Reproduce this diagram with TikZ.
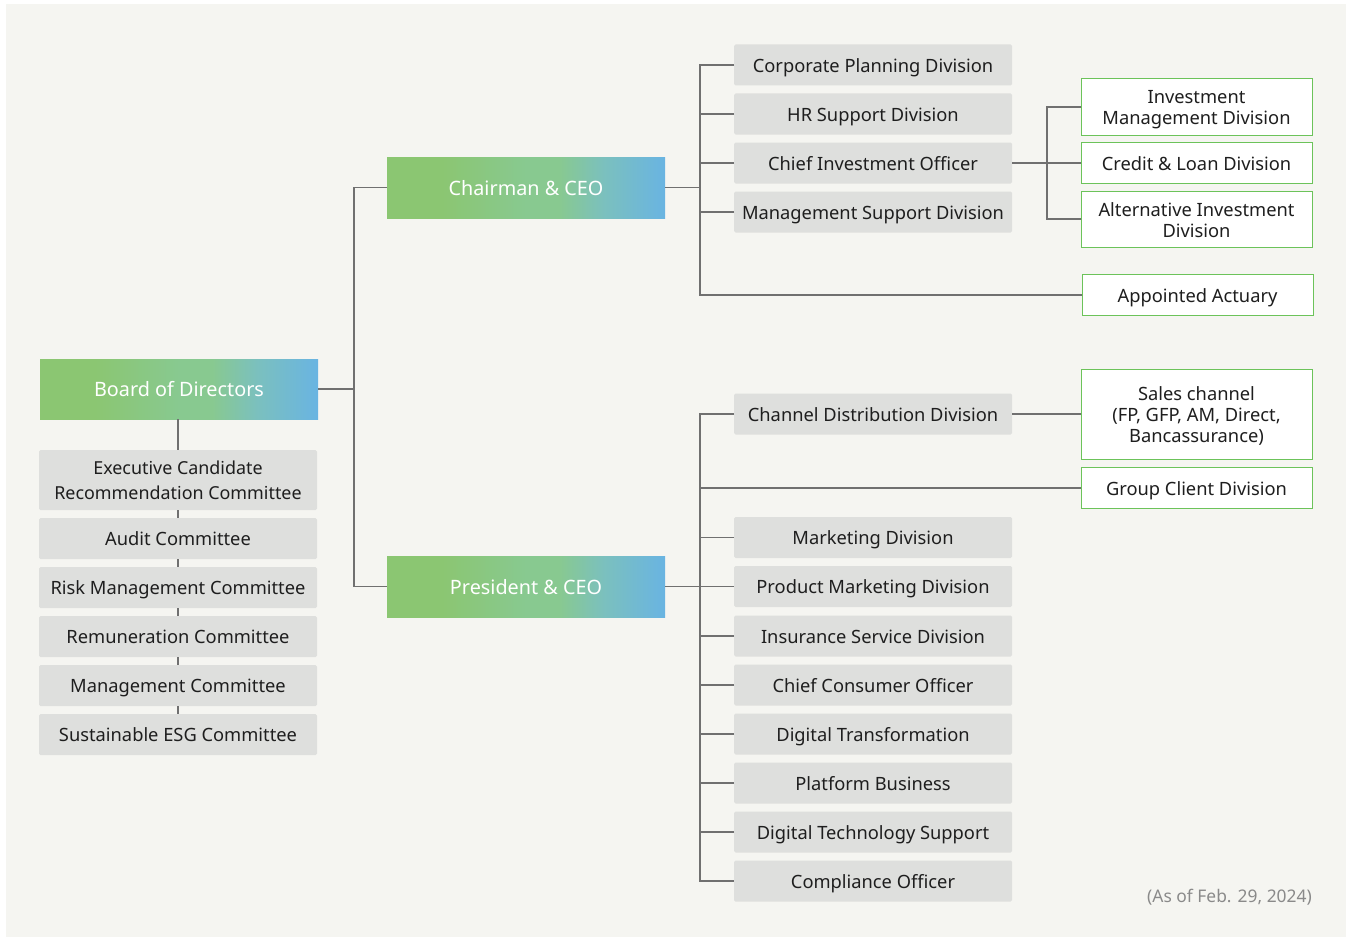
\documentclass[tikz,border=0pt]{standalone}
\usepackage{fontspec}
\setmainfont{Noto Sans}
\usetikzlibrary{calc}
\definecolor{panelbg}{HTML}{F5F5F1}
\definecolor{boxgray}{HTML}{DEDFDD}
\definecolor{linegray}{HTML}{707070}
\definecolor{boxgreen}{HTML}{6CC35A}
\definecolor{footgray}{HTML}{8A8A8A}
\definecolor{txt}{HTML}{1E1E1E}
\definecolor{gA}{HTML}{8BC672}
\definecolor{gB}{HTML}{88C990}
\definecolor{gC}{HTML}{7BC0BE}
\definecolor{gD}{HTML}{69B4E2}
\pgfdeclarehorizontalshading{orgshade}{100bp}{color(0bp)=(gA); color(25bp)=(gA); color(35bp)=(gA); color(50bp)=(gB); color(56bp)=(gB); color(64bp)=(gC); color(75bp)=(gD); color(100bp)=(gD)}
\newcommand{\boxfont}{\fontsize{18.3}{21}\selectfont}
\tikzset{
  gradbox/.style={shading=orgshade, text=white, minimum width=278pt, minimum height=61pt, inner sep=0pt, outer sep=0pt, font=\fontsize{19.8}{22}\selectfont, text height=17pt, text depth=1.2pt},
  graybox/.style={fill=boxgray, rounded corners=1.5pt, minimum width=278pt, minimum height=41pt, inner sep=0pt, outer sep=0pt, align=center, text=txt, font=\boxfont, text height=16pt, text depth=1.4pt},
  greenbox/.style={fill=white, draw=boxgreen, line width=1pt, minimum width=231pt, minimum height=41pt, inner sep=0pt, outer sep=0pt, align=center, text=txt, font=\boxfont, text height=16pt, text depth=1.4pt},
  multi/.style={align=center, text=txt, inner sep=0pt, font=\boxfont},
  conn/.style={draw=linegray, line width=1.2pt},
}
\begin{document}
\begin{tikzpicture}[x=1pt,y=-1pt]
\useasboundingbox (0,0) rectangle (1348,939);
\fill[white] (0,0) rectangle (1348,939);
\fill[panelbg] (6,4) rectangle (1346,937);
% top level
\node[gradbox, minimum height=60pt] (board) at (179,389) {Board of Directors};
\node[gradbox] (chair) at (526,187.5) {Chairman \& CEO};
\node[gradbox] (pres) at (526,586.5) {President \& CEO};
% committees
\node[graybox, minimum height=60pt, label={[multi, font=\fontsize{17.9}{25}\selectfont, yshift=0pt]center:Executive Candidate\\Recommendation Committee}] (exec) at (178,480) {};
\node[graybox] (audit) at (178,538.5) {Audit Committee};
\node[graybox] (risk) at (178,587.5) {Risk Management Committee};
\node[graybox] (remun) at (178,636.5) {Remuneration Committee};
\node[graybox] (mgmt) at (178,685.5) {Management Committee};
\node[graybox] (esg) at (178,734.5) {Sustainable ESG Committee};
% chairman side
\node[graybox] (cp) at (873,65) {Corporate Planning Division};
\node[graybox] (hr) at (873,114) {HR Support Division};
\node[graybox] (cio) at (873,163) {Chief Investment Officer};
\node[graybox] (ms) at (873,212) {Management Support Division};
\node[greenbox, minimum height=56pt, label={[multi, yshift=-3pt]center:Investment\\Management Division}] (im) at (1196.5,107) {};
\node[greenbox] (cl) at (1196.5,163) {Credit \& Loan Division};
\node[greenbox, minimum height=56pt, label={[multi, yshift=-1pt]center:Alternative Investment\\Division}] (ai) at (1196.5,219) {};
\node[greenbox] (act) at (1197.5,295) {Appointed Actuary};
% president side
\node[graybox] (cd) at (873,414) {Channel Distribution Division};
\node[greenbox, minimum height=90pt, label={[multi, yshift=-2pt]center:Sales channel\\(FP, GFP, AM, Direct,\\Bancassurance)}] (sc) at (1196.5,414) {};
\node[greenbox] (gc) at (1196.5,488) {Group Client Division};
\node[graybox] (mk) at (873,537.5) {Marketing Division};
\node[graybox] (pm) at (873,586.5) {Product Marketing Division};
\node[graybox] (is) at (873,636) {Insurance Service Division};
\node[graybox] (cco) at (873,685) {Chief Consumer Officer};
\node[graybox] (dt) at (873,734) {Digital Transformation};
\node[graybox] (pb) at (873,783) {Platform Business};
\node[graybox] (dts) at (873,832) {Digital Technology Support};
\node[graybox] (co) at (873,881) {Compliance Officer};
% footer
\node[anchor=east, text=footgray, inner sep=0pt, font=\fontsize{17.4}{20}\selectfont, text height=13.4pt, text depth=1pt] (note) at (1312,896) {(As of Feb. 29, 2024)};
% junction coordinates
\coordinate (j1) at (354,0);
\coordinate (j2) at (700,0);
\coordinate (j3) at (1047,0);
% board connectors
\draw[conn] (board.east) -- (board.east -| j1);
\draw[conn] (chair.west) -- (chair.west -| j1) -- (pres.west -| j1) -- (pres.west);
\draw[conn] (exec.north |- board.south) -- (exec.north);
\draw[conn] (exec.south) -- (audit.north);
\draw[conn] (audit.south) -- (risk.north);
\draw[conn] (risk.south) -- (remun.north);
\draw[conn] (remun.south) -- (mgmt.north);
\draw[conn] (mgmt.south) -- (esg.north);
% chairman connectors
\draw[conn] (chair.east) -- (chair.east -| j2);
\draw[conn] (cp.west) -- (cp.west -| j2) -- (act.west -| j2) -- (act.west);
\draw[conn] (hr.west) -- (hr.west -| j2);
\draw[conn] (cio.west) -- (cio.west -| j2);
\draw[conn] (ms.west) -- (ms.west -| j2);
\draw[conn] (cio.east) -- (cl.west);
\draw[conn] (im.west) -- (im.west -| j3) -- (ai.west -| j3) -- (ai.west);
% president connectors
\draw[conn] (pres.east) -- (pres.east -| j2);
\draw[conn] (cd.west) -- (cd.west -| j2) -- (co.west -| j2) -- (co.west);
\draw[conn] (cd.east) -- (sc.west);
\draw[conn] (gc.west) -- (gc.west -| j2);
\draw[conn] (mk.west) -- (mk.west -| j2);
\draw[conn] (pm.west) -- (pm.west -| j2);
\draw[conn] (is.west) -- (is.west -| j2);
\draw[conn] (cco.west) -- (cco.west -| j2);
\draw[conn] (dt.west) -- (dt.west -| j2);
\draw[conn] (pb.west) -- (pb.west -| j2);
\draw[conn] (dts.west) -- (dts.west -| j2);
\end{tikzpicture}
\end{document}
